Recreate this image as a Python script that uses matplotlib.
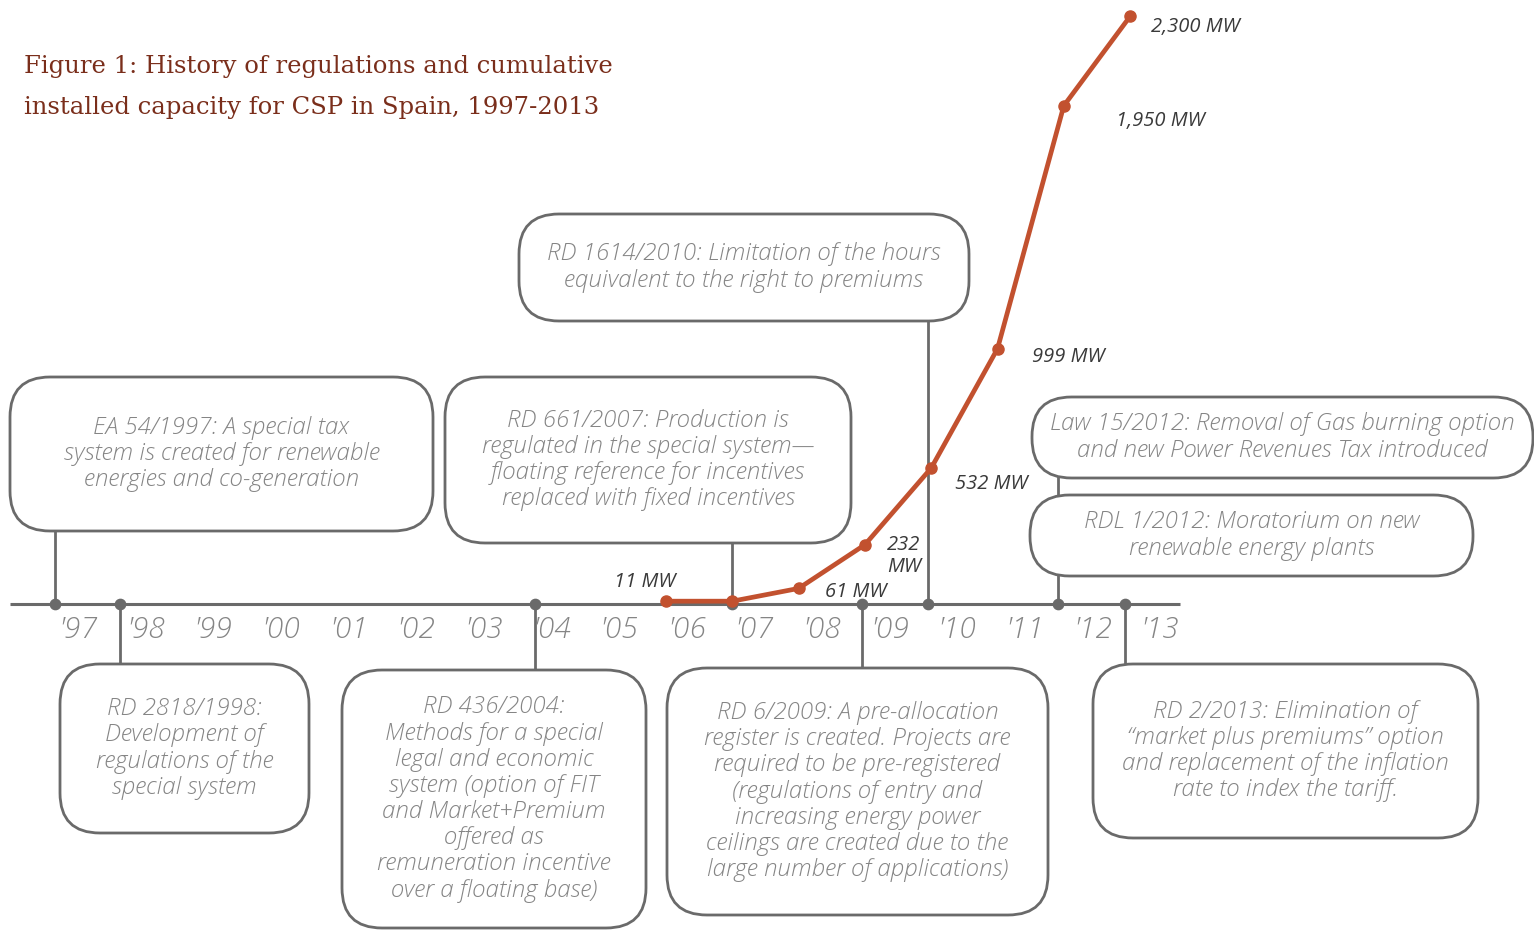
import matplotlib
matplotlib.use("Agg")
import matplotlib.pyplot as plt
from matplotlib.patches import FancyBboxPatch

# ---------------- data ----------------
cap_years = [2006, 2007, 2008, 2009, 2010, 2011, 2012, 2013]
cap_mw = [11, 11, 61, 232, 532, 999, 1950, 2300]
cap_labels = ["11 MW", "", "61 MW", "232\nMW", "532 MW", "999 MW", "1,950 MW", "2,300 MW"]

year_labels = ["'97", "'98", "'99", "'00", "'01", "'02", "'03", "'04", "'05",
               "'06", "'07", "'08", "'09", "'10", "'11", "'12", "'13"]
label_years = list(range(1997, 2014))

event_dates = [1996.79, 1997.77, 2004.02, 2007.0, 2008.96, 2009.95, 2011.92, 2012.92]

event_texts = [
    "EA 54/1997: A special tax\nsystem is created for renewable\nenergies and co-generation",
    "RD 2818/1998:\nDevelopment of\nregulations of the\nspecial system",
    "RD 436/2004:\nMethods for a special\nlegal and economic\nsystem (option of FIT\nand Market+Premium\noffered as\nremuneration incentive\nover a floating base)",
    "RD 661/2007: Production is\nregulated in the special system\u2014\nfloating reference for incentives\nreplaced with fixed incentives",
    "RD 6/2009: A pre-allocation\nregister is created. Projects are\nrequired to be pre-registered\n(regulations of entry and\nincreasing energy power\nceilings are created due to the\nlarge number of applications)",
    "RD 1614/2010: Limitation of the hours\nequivalent to the right to premiums",
    "RDL 1/2012: Moratorium on new\nrenewable energy plants",
    "RD 2/2013: Elimination of\n\u201cmarket plus premiums\u201d option\nand replacement of the inflation\nrate to index the tariff.",
]
extra_text = "Law 15/2012: Removal of Gas burning option\nand new Power Revenues Tax introduced"

title = "Figure 1: History of regulations and cumulative\ninstalled capacity for CSP in Spain, 1997-2013"

# ---------------- layout (pixels) ----------------
W, H = 1534, 930
AXIS_Y = 604
boxes = [
    (10, 377, 433, 531),
    (60, 664, 309, 833),
    (342, 670, 646, 928),
    (445, 377, 851, 543),
    (667, 668, 1048, 915),
    (519, 214, 969, 321),
    (1030, 495, 1473, 576),
    (1093, 664, 1478, 838),
]
extra_box = (1032, 397, 1533, 478)

GRAY = "#6a6a6a"
TXT = "#858585"
LINE_C = "#c2512f"
TITLE_C = "#7a2e1b"
BOXFONT = "Open Sans"

fig = plt.figure(figsize=(W / 100, H / 100), dpi=100)
lay = fig.add_axes([0, 0, 1, 1])
lay.set_xlim(0, W)
lay.set_ylim(H, 0)
lay.axis("off")

x0 = 2006 - 666 / 66.3
x1 = 2006 + (W - 666) / 66.3
y0 = (AXIS_Y - H) / 0.2555
y1 = AXIS_Y / 0.2555
ax = fig.add_axes([0, 0, 1, 1])
ax.set_xlim(x0, x1)
ax.set_ylim(y0, y1)
ax.axis("off")
ax.patch.set_alpha(0)


def yr2px(y):
    return 666 + 66.3 * (y - 2006)


lay.plot([10, 1180], [AXIS_Y, AXIS_Y], color=GRAY, lw=2.2, solid_capstyle="butt", zorder=2)


def draw_box(b, txt):
    l, t, r, btm = b
    w, h = r - l, btm - t
    rs = min(40, h / 2 - 1)
    p = FancyBboxPatch((l, t), w, h, boxstyle=f"round,pad=0,rounding_size={rs}",
                       fc="white", ec=GRAY, lw=2.0, zorder=3)
    lay.add_patch(p)
    lay.text((l + r) / 2, (t + btm) / 2, txt, ha="center", va="center",
             fontsize=17.4, family=BOXFONT, style="italic", weight="light",
             color=TXT, linespacing=1.12, zorder=4)


for d, b, txt in zip(event_dates, boxes, event_texts):
    px = yr2px(d)
    l, t, r, btm = b
    if btm < AXIS_Y:
        lay.plot([px, px], [btm, AXIS_Y], color=GRAY, lw=2.0, zorder=2)
    else:
        lay.plot([px, px], [AXIS_Y, t], color=GRAY, lw=2.0, zorder=2)
    draw_box(b, txt)

px12 = yr2px(event_dates[6])
lay.plot([px12, px12], [extra_box[3], boxes[6][1]], color=GRAY, lw=2.0, zorder=2)
draw_box(extra_box, extra_text)

ax.scatter(event_dates, [0] * len(event_dates), s=55, color=GRAY, zorder=5)

for y, lab in zip(label_years, year_labels):
    ax.text(y + 0.13 + 0.02 * (y - 1997), -90 - 3 / 0.2555, lab, ha="center", va="center",
            fontsize=21.5, family=BOXFONT, style="italic", weight="light", color=TXT)

ax.plot(cap_years, cap_mw, color=LINE_C, lw=3.4, marker="o", ms=8, zorder=6)

# capacity label offsets in pixels (dx right, dy down)
offs = [(-21, -19), (0, 0), (57, 4), (39, 11), (60, 16), (71, 8), (97, 15), (65, 11)]
for yv, mv, lab, (dx, dy) in zip(cap_years, cap_mw, cap_labels, offs):
    if not lab:
        continue
    ax.annotate(lab, (yv, mv), xytext=(dx * 0.72, -dy * 0.72), textcoords="offset points",
                ha="center", va="center", fontsize=14.5, family=BOXFONT, style="italic",
                color="#3a3a3a", linespacing=1.15, zorder=7)

lay.text(24, 87, title, ha="left", va="center", fontsize=17.5, family="DejaVu Serif",
         color=TITLE_C, linespacing=1.95)

fig.savefig("out.png", dpi=100)
